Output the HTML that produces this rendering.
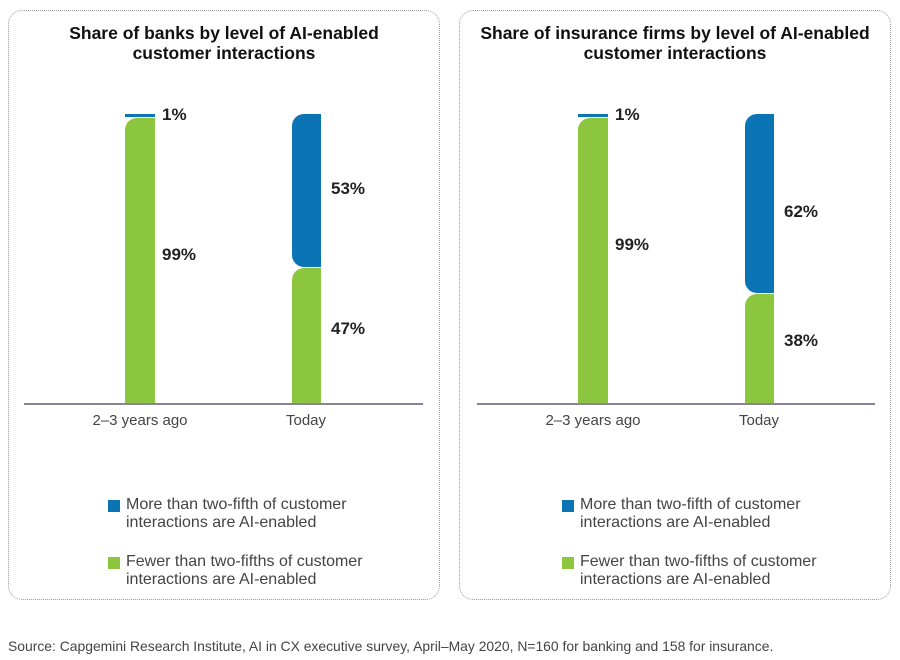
<!DOCTYPE html>
<html><head><meta charset="utf-8"><style>
body{margin:0;width:900px;height:660px;background:#fff;font-family:"Liberation Sans",sans-serif;position:relative;overflow:hidden;color:#222}
.p{position:absolute;top:10px;height:590px;border:1.5px dotted #9a9aa8;border-radius:14px;box-sizing:border-box}
.t{position:absolute;top:12px;width:100%;text-align:center;font-weight:bold;font-size:17.5px;line-height:20px;color:#111}
.a{position:absolute}
.lbl{position:absolute;font-weight:bold;font-size:17px;color:#222}
.x{position:absolute;font-size:15px;color:#444;transform:translateX(-50%)}
.lg{position:absolute;font-size:16px;line-height:18px;color:#444;white-space:nowrap}
.sq{position:absolute;width:12px;height:12px}
</style></head><body>
<div class="p" style="left:8px;width:432px"><div class="t">Share of banks by level of AI-enabled<br>customer interactions</div></div>
<div class="p" style="left:459px;width:432px"><div class="t">Share of insurance firms by level of AI-enabled<br>customer interactions</div></div>

<div class="a" style="left:125px;top:114px;width:30px;height:3px;background:#0a74b4"></div>
<div class="a" style="left:125px;top:118px;width:30px;height:286px;background:#8cc63f;border-top-left-radius:12px"></div>
<div class="a" style="left:292px;top:114px;width:29px;height:153px;background:#0a74b4;border-top-left-radius:12px;border-bottom-left-radius:12px"></div>
<div class="a" style="left:292px;top:268px;width:29px;height:136px;background:#8cc63f;border-top-left-radius:12px"></div>
<div class="a" style="left:24px;top:403px;width:399px;height:2px;background:#8a8298"></div>
<div class="lbl" style="left:162px;top:105px">1%</div>
<div class="lbl" style="left:162px;top:245px">99%</div>
<div class="lbl" style="left:331px;top:179px">53%</div>
<div class="lbl" style="left:331px;top:319px">47%</div>
<div class="x" style="left:140px;top:412px">2–3 years ago</div>
<div class="x" style="left:306px;top:412px">Today</div>
<div class="sq" style="left:108px;top:500px;background:#0a74b4"></div>
<div class="lg" style="left:126px;top:496px">More than two-fifth of customer<br>interactions are AI-enabled</div>
<div class="sq" style="left:108px;top:557px;background:#8cc63f"></div>
<div class="lg" style="left:126px;top:553px">Fewer than two-fifths of customer<br>interactions are AI-enabled</div>

<div class="a" style="left:578px;top:114px;width:30px;height:3px;background:#0a74b4"></div>
<div class="a" style="left:578px;top:118px;width:30px;height:286px;background:#8cc63f;border-top-left-radius:12px"></div>
<div class="a" style="left:745px;top:114px;width:29px;height:179px;background:#0a74b4;border-top-left-radius:12px;border-bottom-left-radius:12px"></div>
<div class="a" style="left:745px;top:294px;width:29px;height:110px;background:#8cc63f;border-top-left-radius:12px"></div>
<div class="a" style="left:477px;top:403px;width:398px;height:2px;background:#8a8298"></div>
<div class="lbl" style="left:615px;top:105px">1%</div>
<div class="lbl" style="left:615px;top:235px">99%</div>
<div class="lbl" style="left:784px;top:202px">62%</div>
<div class="lbl" style="left:784px;top:331px">38%</div>
<div class="x" style="left:593px;top:412px">2–3 years ago</div>
<div class="x" style="left:759px;top:412px">Today</div>
<div class="sq" style="left:562px;top:500px;background:#0a74b4"></div>
<div class="lg" style="left:580px;top:496px">More than two-fifth of customer<br>interactions are AI-enabled</div>
<div class="sq" style="left:562px;top:557px;background:#8cc63f"></div>
<div class="lg" style="left:580px;top:553px">Fewer than two-fifths of customer<br>interactions are AI-enabled</div>

<div style="position:absolute;left:8px;top:638px;font-size:13.9px;color:#444;white-space:nowrap">Source: Capgemini Research Institute, AI in CX executive survey, April–May 2020, N=160 for banking and 158 for insurance.</div>
</body></html>
